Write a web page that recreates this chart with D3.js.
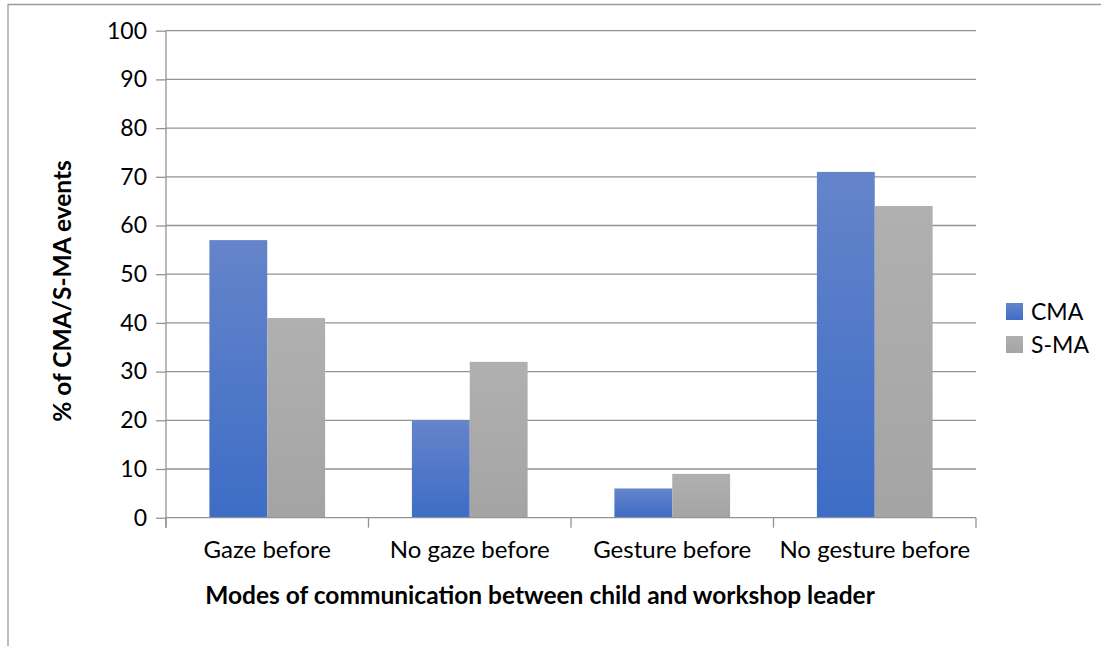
<!DOCTYPE html>
<html>
<head>
<meta charset="utf-8">
<script src="https://cdn.jsdelivr.net/npm/d3@7"></script>
<style>
  html, body { margin: 0; padding: 0; background: #fff; }
  svg { display: block; font-family: Lato, "Open Sans", sans-serif; }
</style>
</head>
<body>
<svg id="chart" width="1101" height="646"></svg>
<script>
const categories = ["Gaze before", "No gaze before", "Gesture before", "No gesture before"];
const seriesNames = ["CMA", "S-MA"];
const cmaValues = [57, 20, 6, 71];
const smaValues = [41, 32, 9, 64];
const yTicks = [0, 10, 20, 30, 40, 50, 60, 70, 80, 90, 100];
const yTitle = "% of CMA/S-MA events";
const xTitle = "Modes of communication between child and workshop leader";

(function () {
const seriesValues = { "CMA": cmaValues, "S-MA": smaValues };
const data = categories.map((c, i) => ({ cat: c, vals: seriesNames.map(s => ({ key: s, value: seriesValues[s][i] })) }));

const svg = d3.select("#chart");
const pLeft = 166, pRight = 976, pTop = 30.7, pBottom = 517.7;
const gridColor = "#939393";

// outer frame (partial, as in reference)
svg.append("path").attr("d", `M8,646 L8,4.5 L1101,4.5`).attr("fill", "none")
  .attr("stroke", "#9a9a9a").attr("stroke-width", 1.3);

const y = d3.scaleLinear().domain([0, 100]).range([pBottom, pTop]);
const x0 = d3.scaleBand().domain(categories).range([pLeft, pRight]).padding(0);
const x1 = d3.scaleBand().domain(seriesNames).range([0, x0.bandwidth()]).paddingInner(0).paddingOuter(0.75);

const defs = svg.append("defs");
const gradCMA = defs.append("linearGradient").attr("id", "gCMA").attr("x1", 0).attr("y1", 0).attr("x2", 0).attr("y2", 1);
gradCMA.append("stop").attr("offset", "0%").attr("stop-color", "#6584ca");
gradCMA.append("stop").attr("offset", "100%").attr("stop-color", "#3d6dc6");
const gradSMA = defs.append("linearGradient").attr("id", "gSMA").attr("x1", 0).attr("y1", 0).attr("x2", 0).attr("y2", 1);
gradSMA.append("stop").attr("offset", "0%").attr("stop-color", "#b0b0b0");
gradSMA.append("stop").attr("offset", "100%").attr("stop-color", "#a4a4a4");
const fills = { "CMA": "url(#gCMA)", "S-MA": "url(#gSMA)" };

// gridlines + y axis
const yAxis = d3.axisLeft(y).tickValues(yTicks).tickSize(10).tickPadding(9).tickFormat(d3.format("d"));
const gy = svg.append("g").attr("transform", `translate(${pLeft},0)`).call(yAxis);
gy.select(".domain").remove();
gy.selectAll(".tick line").attr("stroke", gridColor).attr("stroke-width", 1.3);
gy.selectAll(".tick text").attr("fill", "#000").style("font-size", "23px").style("font-family", "Lato, sans-serif");
svg.append("g").selectAll("line").data(yTicks.filter(d => d > 0)).join("line")
  .attr("x1", pLeft).attr("x2", pRight).attr("y1", d => y(d)).attr("y2", d => y(d))
  .attr("stroke", gridColor).attr("stroke-width", 1.3);
svg.append("line").attr("x1", pLeft).attr("x2", pLeft).attr("y1", pTop).attr("y2", pBottom + 10)
  .attr("stroke", gridColor).attr("stroke-width", 1.3);

// bars
const groups = svg.append("g").selectAll("g").data(data).join("g")
  .attr("transform", d => `translate(${x0(d.cat)},0)`);
groups.selectAll("rect").data(d => d.vals).join("rect")
  .attr("x", d => x1(d.key)).attr("width", x1.bandwidth())
  .attr("y", d => y(d.value)).attr("height", d => y(0) - y(d.value))
  .attr("fill", d => fills[d.key]);

// x axis
svg.append("line").attr("x1", pLeft).attr("x2", pRight).attr("y1", pBottom).attr("y2", pBottom)
  .attr("stroke", gridColor).attr("stroke-width", 1.3);
const boundaries = categories.map(c => x0(c)).concat([x0(categories[categories.length - 1]) + x0.bandwidth()]);
svg.append("g").selectAll("line").data(boundaries).join("line")
  .attr("x1", d => d).attr("x2", d => d).attr("y1", pBottom).attr("y2", pBottom + 10)
  .attr("stroke", gridColor).attr("stroke-width", 1.3);
svg.append("g").selectAll("text").data(categories).join("text")
  .attr("x", d => x0(d) + x0.bandwidth() / 2).attr("y", 558)
  .attr("text-anchor", "middle").style("font-size", "24px").attr("fill", "#000").text(d => d);

// axis titles
svg.append("text").attr("x", 540).attr("y", 604).attr("text-anchor", "middle")
  .style("font-size", "24.5px").style("font-weight", "bold").attr("fill", "#000").text(xTitle);
svg.append("text").attr("transform", "translate(71,291) rotate(-90)").attr("text-anchor", "middle")
  .style("font-size", "24.5px").style("font-weight", "bold").attr("fill", "#000").text(yTitle);

// legend
const legend = svg.append("g").selectAll("g").data(seriesNames).join("g")
  .attr("transform", (d, i) => `translate(1006,${303 + i * 33})`);
legend.append("rect").attr("width", 17).attr("height", 17).attr("fill", d => fills[d]);
legend.append("text").attr("x", 25).attr("y", 17).style("font-size", "23px").attr("fill", "#000").text(d => d);
})();
</script>
</body>
</html>
